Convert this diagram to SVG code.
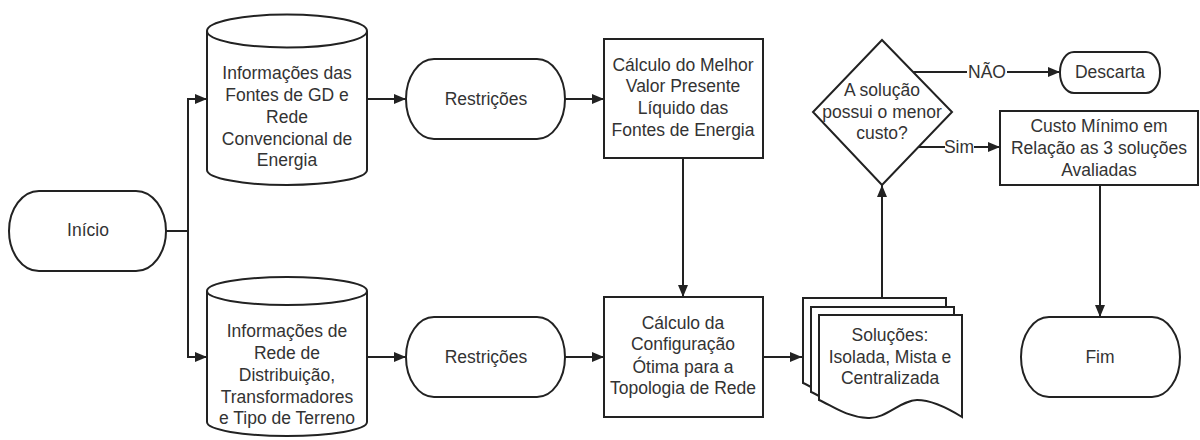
<svg xmlns="http://www.w3.org/2000/svg" width="1200" height="440" viewBox="0 0 1200 440">
<style>
.s{fill:#fff;stroke:#222;stroke-width:2}
.t{font-family:"Liberation Sans",Arial,sans-serif;font-size:17.5px;fill:#333;text-anchor:middle}
.c{fill:none;stroke:#222;stroke-width:2}
.lb{fill:#fff}
</style>
<defs>
<marker id="ah" markerWidth="12" markerHeight="10" refX="12" refY="5" orient="auto" markerUnits="userSpaceOnUse">
<path d="M0,0 L12,5 L0,10 z" fill="#222"/>
</marker>
</defs>
<rect width="1200" height="440" fill="#fff"/>
<g id="connectors">
<path class="c" d="M166,231 H188"/>
<path class="c" d="M188,357 V99 H207" marker-end="url(#ah)"/>
<path class="c" d="M188,231 V357 H207" marker-end="url(#ah)"/>
<path class="c" d="M367,99 H406" marker-end="url(#ah)"/>
<path class="c" d="M565,99 H604" marker-end="url(#ah)"/>
<path class="c" d="M367,357 H406" marker-end="url(#ah)"/>
<path class="c" d="M565,357 H604" marker-end="url(#ah)"/>
<path class="c" d="M683,158 V297" marker-end="url(#ah)"/>
<path class="c" d="M763,357 H802" marker-end="url(#ah)"/>
<path class="c" d="M882,298 V185" marker-end="url(#ah)"/>
<path class="c" d="M913,72 H1060" marker-end="url(#ah)"/>
<rect class="lb" x="967" y="62" width="40" height="20"/>
<text class="t" x="987" y="78">NÃO</text>
<path class="c" d="M918,147 H1000" marker-end="url(#ah)"/>
<rect class="lb" x="945" y="137" width="29" height="20"/>
<text class="t" x="959" y="153">Sim</text>
<path class="c" d="M1100,185 V317" marker-end="url(#ah)"/>
</g>
<g id="inicio">
<rect class="s" x="9" y="191" width="157" height="80" rx="30" ry="40"/>
<text class="t" x="88" y="236">Início</text>
</g>
<g id="cyl1">
<path class="s" d="M207,31 A80,16.5 0 0 1 367,31 V170 A80,15 0 0 1 207,170 Z"/>
<path class="c" d="M207,31 A80,16.5 0 0 0 367,31"/>
<text class="t" x="287" y="79">Informações das</text>
<text class="t" x="287" y="101">Fontes de GD e</text>
<text class="t" x="287" y="123">Rede</text>
<text class="t" x="287" y="145">Convencional de</text>
<text class="t" x="287" y="166">Energia</text>
</g>
<g id="cyl2">
<path class="s" d="M207,291 A80,14 0 0 1 367,291 V422 A80,14 0 0 1 207,422 Z"/>
<path class="c" d="M207,291 A80,14 0 0 0 367,291"/>
<text class="t" x="287" y="337">Informações de</text>
<text class="t" x="287" y="359">Rede de</text>
<text class="t" x="287" y="381">Distribuição,</text>
<text class="t" x="287" y="403">Transformadores</text>
<text class="t" x="287" y="424">e Tipo de Terreno</text>
</g>
<g id="restricoes1">
<rect class="s" x="406" y="59" width="159" height="80" rx="28" ry="40"/>
<text class="t" x="486" y="105">Restrições</text>
</g>
<g id="restricoes2">
<rect class="s" x="406" y="317" width="159" height="80" rx="28" ry="40"/>
<text class="t" x="486" y="363">Restrições</text>
</g>
<g id="calc1">
<rect class="s" x="604" y="39" width="159" height="119"/>
<text class="t" x="683" y="71">Cálculo do Melhor</text>
<text class="t" x="683" y="92">Valor Presente</text>
<text class="t" x="683" y="114">Líquido das</text>
<text class="t" x="683" y="136">Fontes de Energia</text>
</g>
<g id="calc2">
<rect class="s" x="604" y="297" width="159" height="120"/>
<text class="t" x="683" y="329">Cálculo da</text>
<text class="t" x="683" y="350">Configuração</text>
<text class="t" x="683" y="373">Ótima para a</text>
<text class="t" x="683" y="394">Topologia de Rede</text>
</g>
<g id="solucoes">
<path class="s" d="M803,298 H946 V400 C930,390 915,383 901,383 C885,383 870,402 852,401 C830,400 815,388 803,383 Z"/>
<path class="s" d="M811,307 H954 V409 C938,399 923,392 909,392 C893,392 878,411 860,410 C838,409 823,397 811,392 Z"/>
<path class="s" d="M819,315 H962 V417 C946,407 931,400 917,400 C901,400 886,419 868,418 C846,417 831,405 819,400 Z"/>
<text class="t" x="890" y="341">Soluções:</text>
<text class="t" x="890" y="363">Isolada, Mista e</text>
<text class="t" x="890" y="384">Centralizada</text>
</g>
<g id="decisao">
<path class="s" d="M882,40 L952,112 L882,185 L813,112 Z"/>
<text class="t" x="882" y="96">A solução</text>
<text class="t" x="882" y="118">possui o menor</text>
<text class="t" x="882" y="139">custo?</text>
</g>
<g id="descarta">
<rect class="s" x="1060" y="52" width="100" height="41" rx="14" ry="20"/>
<text class="t" x="1110" y="78">Descarta</text>
</g>
<g id="custo">
<rect class="s" x="1000" y="111" width="198" height="74"/>
<text class="t" x="1099" y="132">Custo Mínimo em</text>
<text class="t" x="1099" y="154">Relação as 3 soluções</text>
<text class="t" x="1099" y="176">Avaliadas</text>
</g>
<g id="fim">
<rect class="s" x="1021" y="317" width="159" height="80" rx="28" ry="40"/>
<text class="t" x="1100" y="363">Fim</text>
</g>
</svg>
